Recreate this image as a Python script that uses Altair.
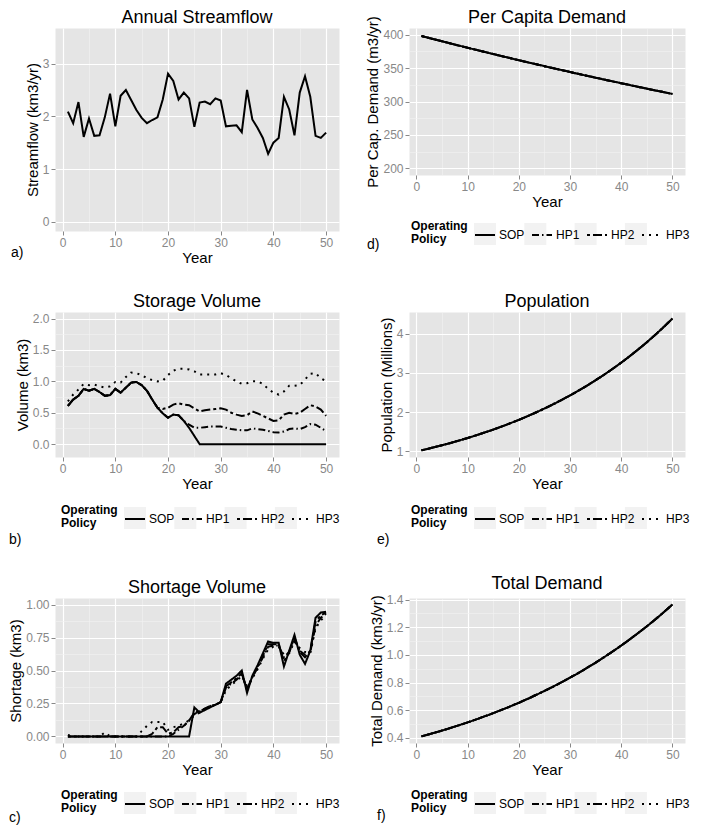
import json
import altair as alt
import pandas as pd

FONT = "Liberation Sans"

years = list(range(1, 51))
policies = ["SOP", "HP1", "HP2", "HP3"]
key_ids = ["key-SOP", "key-HP1", "key-HP2", "key-HP3"]

streamflow = [2.09, 1.87, 2.27, 1.61, 1.96, 1.63, 1.64, 1.98, 2.43, 1.81,
              2.39, 2.50, 2.31, 2.12, 1.97, 1.87, 1.93, 1.98, 2.32, 2.81,
              2.67, 2.32, 2.45, 2.34, 1.80, 2.26, 2.28, 2.23, 2.34, 2.30,
              1.81, 1.82, 1.83, 1.70, 2.50, 1.94, 1.78, 1.59, 1.29, 1.50,
              1.59, 2.37, 2.13, 1.64, 2.45, 2.76, 2.37, 1.63, 1.59, 1.69]

storage_sop = [0.61, 0.71, 0.77, 0.88, 0.85, 0.88, 0.83, 0.77, 0.78, 0.88,
               0.82, 0.90, 0.98, 0.99, 0.94, 0.85, 0.71, 0.58, 0.49, 0.42,
               0.47, 0.46, 0.37, 0.26, 0.13, 0.0, 0.0, 0.0, 0.0, 0.0,
               0.0, 0.0, 0.0, 0.0, 0.0, 0.0, 0.0, 0.0, 0.0, 0.0,
               0.0, 0.0, 0.0, 0.0, 0.0, 0.0, 0.0, 0.0, 0.0, 0.0]
storage_hp1 = [0.61, 0.71, 0.77, 0.88, 0.85, 0.88, 0.83, 0.77, 0.78, 0.88,
               0.82, 0.90, 0.98, 0.99, 0.94, 0.85, 0.71, 0.58, 0.49, 0.42,
               0.47, 0.46, 0.37, 0.31, 0.26, 0.26, 0.27, 0.28, 0.28, 0.28,
               0.26, 0.24, 0.23, 0.22, 0.22, 0.25, 0.24, 0.23, 0.21, 0.19,
               0.185, 0.20, 0.24, 0.25, 0.24, 0.27, 0.32, 0.31, 0.26, 0.21]
storage_hp2 = [0.61, 0.71, 0.77, 0.88, 0.85, 0.88, 0.83, 0.77, 0.78, 0.88,
               0.82, 0.90, 0.98, 0.99, 0.94, 0.85, 0.71, 0.58, 0.56, 0.58,
               0.63, 0.65, 0.63, 0.62, 0.57, 0.52, 0.54, 0.55, 0.56, 0.57,
               0.55, 0.50, 0.47, 0.45, 0.46, 0.52, 0.49, 0.45, 0.41, 0.37,
               0.38, 0.47, 0.50, 0.48, 0.50, 0.56, 0.62, 0.60, 0.55, 0.45]
storage_hp3 = [0.68, 0.79, 0.87, 0.96, 0.94, 0.95, 0.92, 0.90, 0.92, 0.99,
               0.98, 1.07, 1.14, 1.13, 1.10, 1.05, 1.02, 1.00, 1.01, 1.10,
               1.17, 1.20, 1.20, 1.19, 1.16, 1.11, 1.11, 1.11, 1.11, 1.13,
               1.10, 1.05, 1.00, 0.96, 0.97, 1.00, 1.00, 0.96, 0.88, 0.82,
               0.79, 0.84, 0.93, 0.93, 0.94, 1.03, 1.12, 1.13, 1.05, 1.00]

shortage_sop = [0.0, 0.0, 0.0, 0.0, 0.0, 0.0, 0.0, 0.0, 0.0, 0.0,
                0.0, 0.0, 0.0, 0.0, 0.0, 0.0, 0.0, 0.0, 0.0, 0.0,
                0.0, 0.0, 0.0, 0.0, 0.22, 0.18, 0.20, 0.22, 0.24, 0.26,
                0.40, 0.43, 0.46, 0.50, 0.33, 0.46, 0.54, 0.63, 0.72, 0.71,
                0.71, 0.53, 0.65, 0.77, 0.62, 0.55, 0.65, 0.90, 0.94, 0.945]
shortage_hp1 = [0.0, 0.0, 0.0, 0.0, 0.0, 0.0, 0.0, 0.0, 0.0, 0.0,
                0.0, 0.0, 0.0, 0.0, 0.0, 0.0, 0.0, 0.0, 0.0, 0.0,
                0.02, 0.05, 0.08, 0.12, 0.17, 0.19, 0.21, 0.23, 0.24, 0.26,
                0.37, 0.40, 0.43, 0.47, 0.36, 0.45, 0.52, 0.60, 0.68, 0.69,
                0.69, 0.60, 0.64, 0.73, 0.65, 0.62, 0.64, 0.84, 0.90, 0.93]
shortage_hp2 = [0.0, 0.0, 0.0, 0.0, 0.0, 0.0, 0.0, 0.0, 0.0, 0.0,
                0.0, 0.0, 0.0, 0.0, 0.0, 0.0, 0.02, 0.07, 0.07, 0.02,
                0.03, 0.07, 0.08, 0.12, 0.18, 0.19, 0.21, 0.23, 0.24, 0.26,
                0.38, 0.41, 0.44, 0.48, 0.35, 0.45, 0.53, 0.61, 0.70, 0.70,
                0.70, 0.57, 0.64, 0.75, 0.64, 0.60, 0.65, 0.87, 0.92, 0.94]
shortage_hp3 = [0.01, 0.0, 0.0, 0.0, 0.0, 0.0, 0.0, 0.03, 0.0, 0.0,
                0.0, 0.0, 0.0, 0.0, 0.04, 0.08, 0.11, 0.11, 0.11, 0.05,
                0.07, 0.08, 0.10, 0.12, 0.16, 0.18, 0.21, 0.23, 0.24, 0.26,
                0.35, 0.39, 0.42, 0.46, 0.38, 0.44, 0.51, 0.59, 0.66, 0.68,
                0.68, 0.62, 0.63, 0.72, 0.67, 0.64, 0.63, 0.82, 0.88, 0.92]

per_capita = [398.0, 396.0, 394.0, 392.1, 390.1, 388.2, 386.2, 384.3, 382.4, 380.4,
              378.5, 376.7, 374.8, 372.9, 371.0, 369.2, 367.3, 365.5, 363.7, 361.8,
              360.0, 358.2, 356.4, 354.7, 352.9, 351.1, 349.4, 347.6, 345.9, 344.2,
              342.4, 340.7, 339.0, 337.3, 335.6, 334.0, 332.3, 330.6, 329.0, 327.3,
              325.7, 324.1, 322.4, 320.8, 319.2, 317.6, 316.0, 314.5, 312.9, 311.3]
population = [1.030, 1.061, 1.093, 1.126, 1.159, 1.194, 1.230, 1.267, 1.305, 1.344,
              1.384, 1.426, 1.469, 1.513, 1.558, 1.605, 1.653, 1.702, 1.754, 1.806,
              1.860, 1.916, 1.974, 2.033, 2.094, 2.157, 2.221, 2.288, 2.357, 2.427,
              2.500, 2.575, 2.652, 2.732, 2.814, 2.898, 2.985, 3.075, 3.167, 3.262,
              3.360, 3.461, 3.565, 3.671, 3.782, 3.895, 4.012, 4.132, 4.256, 4.384]
total_demand = [0.410, 0.420, 0.431, 0.441, 0.452, 0.463, 0.475, 0.487, 0.499, 0.511,
                0.524, 0.537, 0.551, 0.564, 0.578, 0.593, 0.607, 0.622, 0.638, 0.653,
                0.670, 0.686, 0.704, 0.721, 0.739, 0.757, 0.776, 0.795, 0.815, 0.835,
                0.856, 0.877, 0.899, 0.922, 0.944, 0.968, 0.992, 1.017, 1.042, 1.068,
                1.094, 1.122, 1.150, 1.178, 1.207, 1.237, 1.268, 1.299, 1.332, 1.365]

x_ticks = [0, 5, 10, 15, 20, 25, 30, 35, 40, 45, 50]
x_major = [0, 10, 20, 30, 40, 50]

dash_range = [[1, 0], [7, 3, 1.5, 3], [3, 3, 9, 3], [2, 5]]
key_fill = ["#F2F2F2", "#F2F2F2", "#F2F2F2", "#F2F2F2"]


def long_df(series):
    rows = []
    for (pol, vals), key in zip(series.items(), key_ids):
        for yr, v in zip(years, vals):
            rows.append({"Year": yr, "Value": v, "Policy": pol, "Key": key})
    return pd.DataFrame(rows)


def make_axis(vals, majors, fmt, title, **kw):
    test = "indexof(%s, datum.value) < 0" % json.dumps(majors)
    return alt.Axis(
        values=vals, format=fmt, title=title,
        labelExpr="indexof(%s, datum.value) >= 0 ? datum.label : ''" % json.dumps(majors),
        gridColor={"condition": {"test": test, "value": "#F2F2F2"}, "value": "#FFFFFF"},
        gridWidth={"condition": {"test": test, "value": 0.6}, "value": 1.2},
        tickColor={"condition": {"test": test, "value": "transparent"}, "value": "#888888"},
        **kw)


def panel(df, title, ytitle, ydomain, yvals, ymajor, yfmt, w, h, label, lx, ly,
          legend_xy=None, title_dy=0):
    x = alt.X("Year:Q", scale=alt.Scale(domain=[-1.45, 52.45], nice=False, zero=False),
              axis=make_axis(x_ticks, x_major, "d", "Year"))
    y = alt.Y("Value:Q", scale=alt.Scale(domain=ydomain, nice=False, zero=False),
              axis=make_axis(yvals, ymajor, yfmt, ytitle))
    base = alt.Chart(df).mark_line(color="black", strokeWidth=2, strokeCap="butt")
    if legend_xy is not None:
        leg = alt.Legend(title=["Operating", "Policy"], orient="none",
                         legendX=legend_xy[0], legendY=legend_xy[1],
                         direction="horizontal", columns=4, titleOrient="left",
                         titleFont=FONT, titleFontWeight="bold", titleFontSize=12,
                         titleLineHeight=13, titleColor="black",
                         labelFont=FONT, labelFontSize=12, labelColor="black",
                         symbolType="stroke", symbolSize=400, symbolStrokeWidth=2,
                         symbolStrokeColor="black", labelOffset=3, columnPadding=3,
                         titlePadding=6)
        box_leg = alt.Legend(title="", orient="none",
                             legendX=legend_xy[0] + 63, legendY=legend_xy[1] - 1,
                             direction="horizontal", columns=4,
                             labelExpr="''", labelFontSize=12, labelOffset=3,
                             columnPadding=25.3, symbolType="square", symbolSize=484,
                             symbolStrokeWidth=0, symbolOpacity=1)
        boxes = alt.Chart(df).mark_point(size=0, filled=True, strokeWidth=0).encode(
            x=x, y=y,
            fill=alt.Fill("Key:N", scale=alt.Scale(domain=key_ids, range=key_fill),
                          sort=key_ids, legend=box_leg))
        line = base.encode(x=x, y=y,
                           strokeDash=alt.StrokeDash("Policy:N",
                                                     scale=alt.Scale(domain=policies, range=dash_range),
                                                     sort=policies, legend=leg))
        layers = [boxes, line]
    else:
        layers = [base.encode(x=x, y=y)]
    lab = alt.Chart(pd.DataFrame({"label": [label]})).mark_text(
        align="left", baseline="middle", font=FONT, fontSize=14, color="black"
    ).encode(x=alt.value(lx), y=alt.value(ly), text="label:N")
    return alt.layer(*layers, lab).properties(
        width=w, height=h,
        title=alt.TitleParams(title, font=FONT, fontSize=18, fontWeight="normal",
                              color="black", offset=1, dy=title_dy))


df_a = pd.DataFrame({"Year": years, "Value": streamflow})
df_b = long_df({"SOP": storage_sop, "HP1": storage_hp1, "HP2": storage_hp2, "HP3": storage_hp3})
df_c = long_df({"SOP": shortage_sop, "HP1": shortage_hp1, "HP2": shortage_hp2, "HP3": shortage_hp3})
df_d = long_df({p: per_capita for p in policies})
df_e = long_df({p: population for p in policies})
df_f = long_df({p: total_demand for p in policies})

W1, W2 = 284, 276

pa = panel(df_a, "Annual Streamflow", "Streamflow (km3/yr)", [-0.175, 3.675],
           [0, 0.5, 1, 1.5, 2, 2.5, 3, 3.5], [0, 1, 2, 3], "d", W1, 203, "a)", -44, 225)
pd_ = panel(df_d, "Per Capita Demand", "Per Cap. Demand (m3/yr)", [190, 410],
            [200, 225, 250, 275, 300, 325, 350, 375, 400], [200, 250, 300, 350, 400], "d",
            W2, 147, "d)", -42, 217, (2, 196), title_dy=12)
pb = panel(df_b, "Storage Volume", "Volume (km3)", [-0.205, 2.105],
           [0, 0.25, 0.5, 0.75, 1, 1.25, 1.5, 1.75, 2], [0, 0.5, 1, 1.5, 2], ".1f",
           W1, 145, "b)", -46, 228, (6, 196))
pe = panel(df_e, "Population", "Population (Millions)", [0.86, 4.55],
           [1, 1.5, 2, 2.5, 3, 3.5, 4, 4.5], [1, 2, 3, 4], "d",
           W2, 145, "e)", -32, 228, (2, 196))
pc = panel(df_c, "Shortage Volume", "Shortage (km3)", [-0.05, 1.05],
           [0, 0.125, 0.25, 0.375, 0.5, 0.625, 0.75, 0.875, 1], [0, 0.25, 0.5, 0.75, 1], ".2f",
           W1, 145, "c)", -46, 220, (6, 195))
pf = panel(df_f, "Total Demand", "Total Demand (km3/yr)", [0.362, 1.412],
           [0.4, 0.5, 0.6, 0.7, 0.8, 0.9, 1.0, 1.1, 1.2, 1.3, 1.4], [0.4, 0.6, 0.8, 1.0, 1.2, 1.4], ".1f",
           W2, 145, "f)", -32, 218, (2, 195))

chart = alt.concat(
    pa, pd_, pb, pe, pc, pf, columns=2, spacing={"row": 26, "column": 24},
).resolve_scale(strokeDash="independent", fill="independent").resolve_legend(
    strokeDash="independent", fill="independent"
).properties(padding=0, background="white").configure_view(
    fill="#E5E5E5", stroke="transparent"
).configure_axis(
    labelFont=FONT, labelFontSize=12, labelColor="#888888",
    titleFont=FONT, titleFontSize=15, titleFontWeight="normal", titleColor="black",
    domain=False, tickSize=4, labelPadding=2, titlePadding=2,
)

chart.save("out.html", embed_options={"renderer": "svg", "actions": False})
